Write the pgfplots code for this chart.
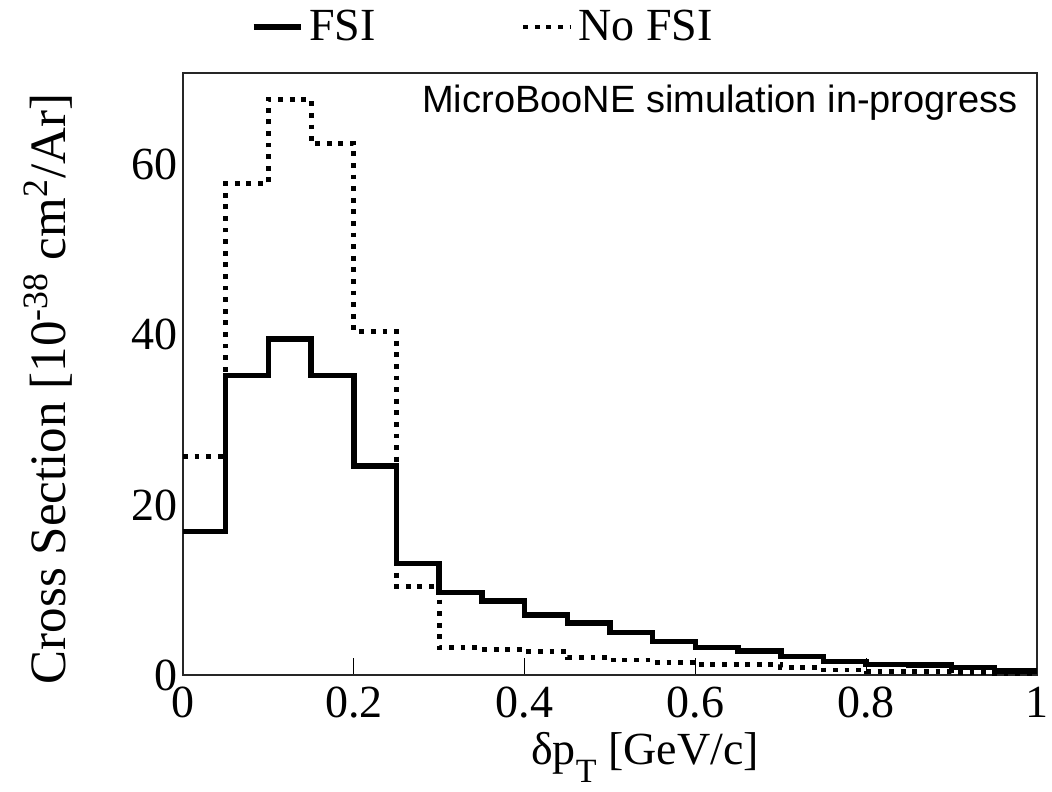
\documentclass[border=0pt]{standalone}
\usepackage{fontspec}
\setmainfont{Liberation Serif}
\newfontfamily\sansf{Liberation Sans}
\usepackage{pgfplots}
\pgfplotsset{compat=1.18}
\begin{document}
\begin{tikzpicture}
\useasboundingbox (-91.5pt,-58pt) rectangle (434.5pt,337.5pt);
\begin{axis}[
 at={(0,0)}, anchor=south west,
 scale only axis, width=427pt, height=301pt,
 xmin=0, xmax=1, ymin=0, ymax=70.8,
 xtick={0,0.2,0.4,0.6,0.8,1}, ytick={0,20,40,60},
 tick align=inside, xtick pos=bottom, ytick pos=left,
 major tick length=8.5pt,
 ytick style={draw=none},
 xtick style={line width=0.6pt, black},
 /pgf/number format/assume math mode=true,
 /pgf/number format/fixed,
 tick label style={font=\fontsize{23}{27}\selectfont},
 xticklabel style={inner sep=0pt, anchor=north, yshift=-6pt},
 yticklabel style={inner sep=0pt, anchor=east, xshift=-2.5pt},
 axis line style={line width=0.75pt, black!85},
 xlabel={δp\raisebox{-9pt}{\fontsize{17}{17}\selectfont T} [GeV/c]},
 xlabel style={at={(axis description cs:0.541,-0.148)}, anchor=base, inner sep=0pt, font=\fontsize{23}{27}\selectfont},
 ylabel={Cross Section [10\textsuperscript{-38} cm\textsuperscript{2}/Ar]},
 ylabel style={at={(axis description cs:-0.158,0.475)}, anchor=center, inner sep=0pt, font=\fontsize{25.5}{30}\selectfont},
 legend style={draw=none, fill=none, at={(axis description cs:0.079,1.0764)}, anchor=west,
   font=\fontsize{23}{27}\selectfont, inner sep=0pt, nodes={inner sep=0pt},
   /tikz/every odd column/.append style={column sep=3pt},
   /tikz/every even column/.append style={column sep=72.5pt}},
 legend columns=2,
 legend image code/.code={\draw[#1] (0pt,0pt) -- (23.5pt,0pt);},
 clip=true,
]
\addplot[const plot, line width=2.75pt, black] coordinates {
 (0.00,16.9) (0.05,35.2) (0.10,39.5) (0.15,35.2) (0.20,24.6)
 (0.25,13.1) (0.30,9.7) (0.35,8.7) (0.40,7.06) (0.45,6.1)
 (0.50,5.0) (0.55,3.95) (0.60,3.25) (0.65,2.8) (0.70,2.16)
 (0.75,1.57) (0.80,1.25) (0.85,1.2) (0.90,0.86) (0.95,0.5) (1.00,0.5)};
\addlegendentry{FSI}
\addplot[const plot, line width=2.4pt, black, dash pattern=on 2.4pt off 3.4pt] coordinates {
 (0.00,25.7) (0.05,57.8) (0.10,67.7) (0.15,62.5) (0.20,40.4)
 (0.25,10.4) (0.30,3.2) (0.35,3.0) (0.40,2.75) (0.45,2.1)
 (0.50,1.76) (0.55,1.49) (0.60,1.2) (0.65,1.2) (0.70,0.86)
 (0.75,0.6) (0.80,0.4) (0.85,0.39) (0.90,0.3) (0.95,0.2) (1.00,0.2)};
\addlegendentry{No FSI}
\node[anchor=base east, inner sep=0pt, font=\sansf\fontsize{19}{22}\selectfont] at (axis description cs:0.978,0.934) {MicroBooNE simulation in-progress};
\end{axis}
\end{tikzpicture}
\end{document}
